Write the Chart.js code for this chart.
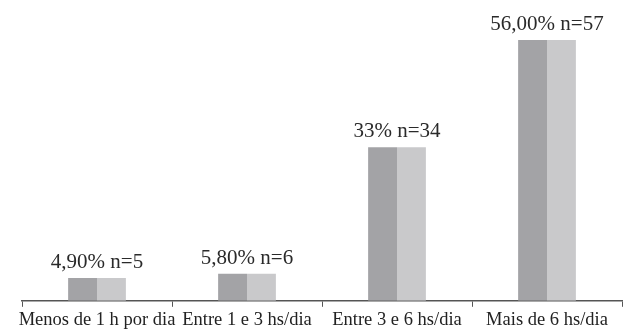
<!DOCTYPE html>
<html>
<head>
    <script src="https://cdn.jsdelivr.net/npm/chart.js@4.4.0/dist/chart.umd.min.js"></script>
    <style>
    body {
        margin: 0;
        background-color: #ffffff;
        font-family: "Liberation Serif", "DejaVu Serif", serif;
    }
    #wrap {
        width: 623px;
        height: 333px;
    }
    </style>
    <title>Horas por dia</title>
</head>
<body>

<div id="wrap"><canvas id="myChart"></canvas></div>

<script>
    // categories and values
    var categories = ['Menos de 1 h por dia', 'Entre 1 e 3 hs/dia', 'Entre 3 e 6 hs/dia', 'Mais de 6 hs/dia'];
    var percents = [4.9, 5.8, 33, 56];
    var valueLabels = ['4,90% n=5', '5,80% n=6', '33% n=34', '56,00% n=57'];

    var serif = '"Liberation Serif", "DejaVu Serif", serif';

    // draws the "xx% n=yy" text above each pair of bar halves
    var topLabels = {
        id: 'topLabels',
        afterDatasetsDraw: function(chart) {
            var ctx = chart.ctx;
            var a = chart.getDatasetMeta(0).data;
            var b = chart.getDatasetMeta(1).data;
            ctx.save();
            ctx.fillStyle = '#2a2a2a';
            ctx.font = '21px ' + serif;
            ctx.textAlign = 'center';
            ctx.textBaseline = 'alphabetic';
            for (var i = 0; i < valueLabels.length; i++) {
                var x = (a[i].x + b[i].x) / 2;
                ctx.fillText(valueLabels[i], x, a[i].y - 10);
            }
            ctx.restore();
        }
    };

    function draw() {
        var ctx = document.getElementById('myChart').getContext('2d');
        var myChart = new Chart(ctx, {
            type: 'bar',
            data: {
                labels: categories,
                datasets: [
                    {
                        data: percents,
                        backgroundColor: '#a3a3a6',
                        categoryPercentage: 0.385,
                        barPercentage: 1
                    },
                    {
                        data: percents,
                        backgroundColor: '#c9c9cb',
                        categoryPercentage: 0.385,
                        barPercentage: 1
                    }
                ]
            },
            options: {
                responsive: true,
                maintainAspectRatio: false,
                animation: false,
                layout: {
                    padding: { left: 22, right: 1, top: 0, bottom: 0 }
                },
                scales: {
                    x: {
                        grid: {
                            display: true,
                            drawOnChartArea: false,
                            offset: true,
                            tickLength: 6,
                            color: '#555555',
                            lineWidth: 1
                        },
                        border: { color: '#555555', width: 1.5 },
                        ticks: {
                            color: '#222222',
                            font: { family: serif, size: 18.5 },
                            padding: 2,
                            maxRotation: 0,
                            autoSkip: false
                        }
                    },
                    y: {
                        display: false,
                        min: 0,
                        max: 64.6
                    }
                },
                plugins: {
                    legend: { display: false },
                    tooltip: { enabled: false }
                }
            },
            plugins: [topLabels]
        });
    }

    // make sure the serif face is ready before the canvas draws text
    if (document.fonts && document.fonts.load) {
        document.fonts.load('21px "Liberation Serif"').then(draw, draw);
    } else {
        draw();
    }
</script>

</body>
</html>
